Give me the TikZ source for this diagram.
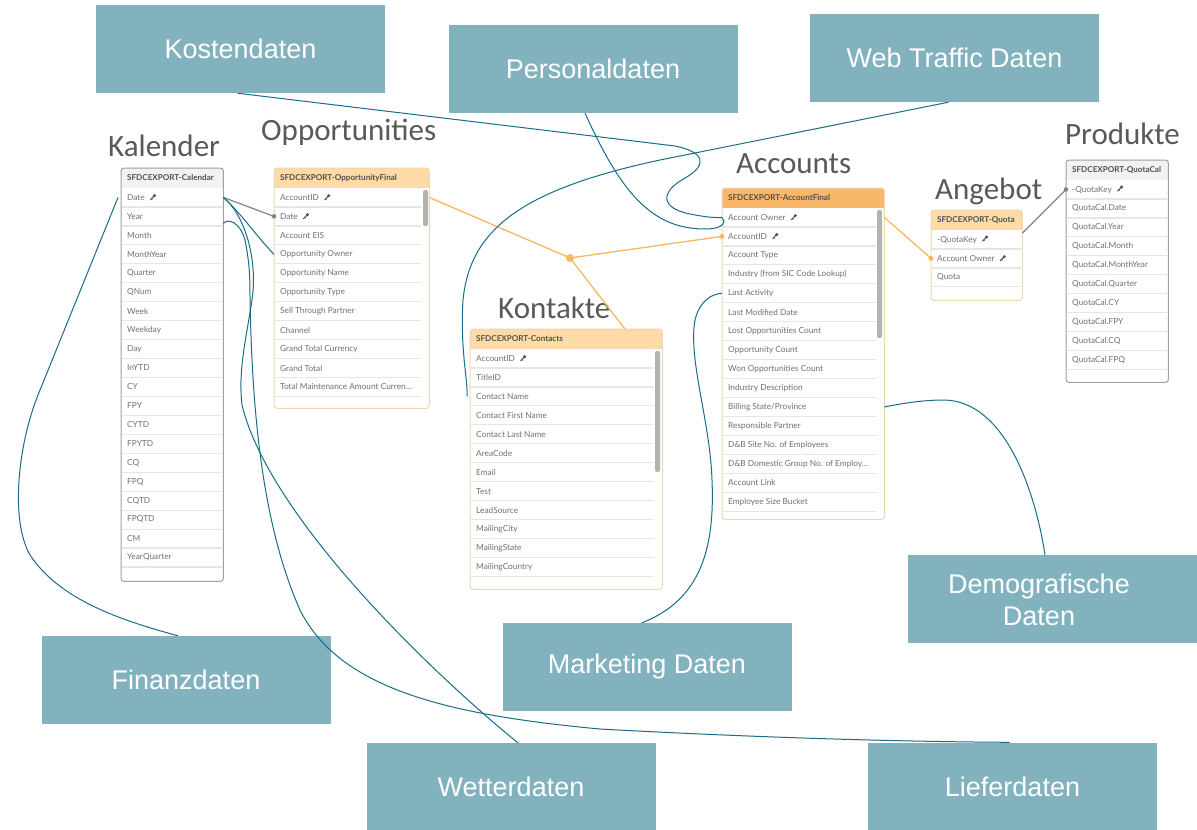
\documentclass[tikz,border=0pt]{standalone}
\usepackage{fontspec}
\setmainfont{Lato}
\newfontfamily\titlefont{Carlito}
\newfontfamily\boxfont{Liberation Sans}
\newfontfamily\tabfont{Lato}
\definecolor{boxblue}{HTML}{83B2BF}
\definecolor{linkteal}{HTML}{1A6C87}
\definecolor{qorange}{HTML}{F9B860}
\definecolor{hdrlight}{HTML}{FDDAA6}
\definecolor{hdrdark}{HTML}{F9B869}
\definecolor{hdrgray}{HTML}{F2F2F2}
\definecolor{frameor}{HTML}{F0D6B8}
\definecolor{framegray}{HTML}{A0A0A0}
\definecolor{titlegray}{HTML}{595959}
\definecolor{rowgray}{HTML}{707070}
\definecolor{sepgray}{HTML}{E6E6E6}
\definecolor{scrollgray}{HTML}{B3B3B3}
\definecolor{keygray}{HTML}{555555}
\definecolor{connGray}{HTML}{858585}
\tikzset{
  bluebox/.style={fill=boxblue, text=white, font=\boxfont\fontsize{27}{32}\selectfont,
    minimum width=289pt, minimum height=88pt, inner sep=0pt, align=center},
  boxtext/.style={text=white, font=\boxfont\fontsize{27}{32}\selectfont, inner sep=0pt, align=center},
  ttl/.style={font=\titlefont\fontsize{31}{36}\selectfont, text=titlegray, anchor=base west, inner sep=0pt},
  tabframe/.style={fill=white, inner sep=0pt, rounded corners=3pt},
  tabhead/.style={font=\tabfont\bfseries\fontsize{8.1}{9}\selectfont, text=titlegray!90!black, inner sep=0pt},
  rowtext/.style={font=\tabfont\fontsize{8.3}{9}\selectfont, text=rowgray, inner sep=0pt},
  sepline/.style={draw=sepgray, line width=1.2pt},
  tealline/.style={draw=linkteal, line width=1pt},
  orl/.style={draw=qorange, line width=1.3pt},
  grl/.style={draw=connGray, line width=1.2pt},
  scrollbar/.style={fill=scrollgray, rounded corners=2pt},
}
\newcommand\keyic{\hspace{3pt}\tikz[x=1pt,y=1pt,baseline=0pt]{\fill[keygray] (4.6,5.2) circle (1.7);\draw[keygray,line width=1.1pt,line cap=round] (4.6,5.2) -- (0.6,1.2);\draw[keygray,line width=0.8pt] (1.7,2.3) -- (2.6,1.4);}}
\newcommand\trunc{\ldots}
\def\seprm{8}
\newcommand\qtab[9]{%
  \node[tabframe, minimum width=#4pt, minimum height=#5pt, anchor=north west] (#1) at (#2,#3) {};
  \begin{scope}
    \clip[rounded corners=3pt] (#1.north west) rectangle (#1.south east);
    \fill[#6] (#1.north west) rectangle ([yshift=-20pt]#1.north east);
  \end{scope}
  \node[tabhead, anchor=west] (#1-h) at (#2+6,#3+10) {#8};
  \foreach \t [count=\i] in {#9} {
    \node[rowtext, anchor=west] (#1-\i) at (#2+6,#3+20+\i*18.95-9.5) {\t};
    \draw[sepline] (#2+1,#3+20+\i*18.95) -- (#2+#4-\seprm,#3+20+\i*18.95);
  }
  \draw[draw=#7, rounded corners=3pt, line width=1pt] (#1.north west) rectangle (#1.south east);
}
\begin{document}
\begin{tikzpicture}[x=1pt,y=-1pt]
\useasboundingbox (0,0) rectangle (1197,830);
\fill[white] (0,0) rectangle (1197,830);

% ---------- blue source boxes ----------
\node[bluebox] (kost) at (240.5,49) {Kostendaten};
\node[bluebox] (pers) at (593,69) {Personaldaten};
\node[bluebox] (web) at (954.5,58) {Web Traffic Daten};
\node[bluebox] (fin) at (186,680) {Finanzdaten};
\node[bluebox] (mkt) at (647,667) {Marketing Daten};
\node[bluebox] (demo) at (1052.5,599) {};
\node[boxtext] (demotxt) at (1039,600) {Demografische\\Daten};
\node[bluebox] (wet) at (511,787) {Wetterdaten};
\node[bluebox] (lief) at (1012.5,786.5) {Lieferdaten};

% ---------- titles ----------
\node[ttl] (tKal) at (108,156) {Kalender};
\node[ttl] (tOpp) at (261,140) {Opportunities};
\node[ttl] (tAcc) at (736,173) {Accounts};
\node[ttl] (tKon) at (498,318) {Kontakte};
\node[ttl] (tAng) at (935,199) {Angebot};
\node[ttl] (tPro) at (1065,144) {Produkte};

% ---------- tables ----------
\def\seprm{1}
\qtab{cal}{121}{168}{102}{413}{hdrgray}{framegray}{SFDCEXPORT-Calendar}{Date \keyic, Year, Month, MonthYear, Quarter, QNum, Week, Weekday, Day, InYTD, CY, FPY, CYTD, FPYTD, CQ, FPQ, CQTD, FPQTD, CM, YearQuarter}
\def\seprm{8}
\qtab{opp}{274}{168}{155}{240}{hdrlight}{frameor}{SFDCEXPORT-OpportunityFinal}{AccountID \keyic, Date \keyic, Account EIS, Opportunity Owner, Opportunity Name, Opportunity Type, Sell Through Partner, Channel, Grand Total Currency, Grand Total, Total Maintenance Amount Curren\trunc}
\fill[scrollbar] (423,190) rectangle (428,226);
\qtab{con}{470}{329}{192}{260}{hdrlight}{frameor}{SFDCEXPORT-Contacts}{AccountID \keyic, TitleID, Contact Name, Contact First Name, Contact Last Name, AreaCode, Email, Test, LeadSource, MailingCity, MailingState, MailingCountry}
\fill[scrollbar] (655,351) rectangle (660,472);
\qtab{acc}{722}{188}{162}{331}{hdrdark}{frameor}{SFDCEXPORT-AccountFinal}{Account Owner \keyic, AccountID \keyic, Account Type, {Industry (from SIC Code Lookup)}, Last Activity, Last Modified Date, Lost Opportunities Count, Opportunity Count, Won Opportunities Count, Industry Description, {Billing State/Province}, Responsible Partner, D\&B Site No. of Employees, D\&B Domestic Group No. of Employ\trunc, Account Link, Employee Size Bucket}
\fill[scrollbar] (877,210) rectangle (882,338);
\def\seprm{1}
\qtab{quota}{931}{210}{91}{90}{hdrlight}{frameor}{SFDCEXPORT-Quota}{-QuotaKey \keyic, Account Owner \keyic, Quota}
\qtab{qc}{1066}{160}{102}{222}{hdrgray}{framegray}{SFDCEXPORT-QuotaCal}{-QuotaKey \keyic, QuotaCal.Date, QuotaCal.Year, QuotaCal.Month, QuotaCal.MonthYear, QuotaCal.Quarter, QuotaCal.CY, QuotaCal.FPY, QuotaCal.CQ, QuotaCal.FPQ}

% ---------- key coordinates ----------
\coordinate (calDate) at (cal.east |- cal-1);
\coordinate (calYear) at (cal.east |- cal-2);
\coordinate (ownerL) at (acc.west |- acc-1);
\coordinate (J) at (570,258);

% ---------- data model connectors ----------
\draw[grl] (calDate) -- (opp.west |- opp-2);
\fill[connGray] (opp.west |- opp-2) circle (2.3);
\draw[orl] (opp.east |- opp-1) -- (J) -- (acc.west |- acc-2);
\draw[orl] (J) -- ([xshift=155pt]con.north west);
\fill[qorange] (J) circle (4);
\fill[qorange] (acc.west |- acc-2) circle (2.5);
\draw[orl] (acc.east |- acc-1) -- (quota.west |- quota-2);
\fill[qorange] (quota.west |- quota-2) circle (2.5);
\draw[grl] ([yshift=-23pt]quota.north east) -- (qc.west |- qc-1);
\fill[connGray] (qc.west |- qc-1) circle (2.3);

% ---------- teal source curves ----------
\draw[tealline] ([xshift=-3pt]kost.south) -- (675,146) .. controls (705,152) and (708,165) .. (685,178) .. controls (660,192) and (660,208) .. (690,214) .. controls (705,217) and (715,218) .. (ownerL);
\draw[tealline] ([xshift=-8pt]pers.south) .. controls (620,190) and (650,229) .. (705,229) .. controls (725,229) and (726,221) .. (ownerL);
\draw[tealline] ([xshift=-6pt]web.south) -- (660,160) .. controls (520,190) and (470,230) .. (463,300) .. controls (460,350) and (468,380) .. ([xshift=-3pt]con.west |- con-3);
\draw[tealline] ([xshift=-8pt]fin.north) .. controls (120,620) and (60,600) .. (30,555) .. controls (10,520) and (18,445) .. (38,395) -- ([xshift=-3pt]cal.west |- cal-1);
\draw[tealline] ([xshift=-5pt]mkt.north) .. controls (700,600) and (715,550) .. (712,480) .. controls (710,420) and (688,360) .. (695,320) .. controls (700,300) and (712,294) .. (acc.west |- acc-5);
\draw[tealline] ([xshift=-7.5pt]demo.north) .. controls (1035,490) and (1005,402) .. (945,400) .. controls (920,400) and (900,404) .. (acc.east |- acc-11);
\draw[tealline] (calDate) .. controls (240,212) and (258,238) .. (opp.west |- opp-4);
\draw[tealline] (calDate) .. controls (245,215) and (258,260) .. (252,300) .. controls (246,340) and (238,370) .. (242,405) .. controls (270,520) and (440,680) .. ([xshift=7pt]wet.north);
\draw[tealline] ([yshift=-7pt]calYear) .. controls (228,218) and (240,222) .. (245,240) .. controls (250,265) and (250,280) .. (250,300) .. controls (252,400) and (260,520) .. (300,610) .. controls (340,690) and (450,715) .. (600,729) .. controls (800,740) and (950,742) .. ([xshift=-3pt]lief.north);
\end{tikzpicture}
\end{document}
